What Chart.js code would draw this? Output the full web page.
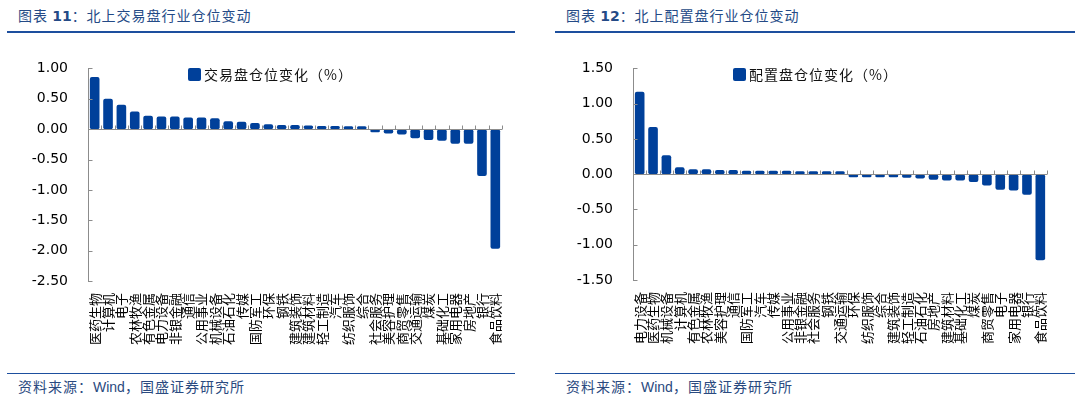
<!DOCTYPE html>
<html>
<head>
<meta charset="utf-8">
<script src="https://cdn.jsdelivr.net/npm/chart.js@4.4.1/dist/chart.umd.min.js"></script>
<style>
  html,body{margin:0;padding:0;background:#fff;}
  body{width:1080px;height:399px;position:relative;overflow:hidden;font-family:"Noto Sans CJK SC","DejaVu Sans",sans-serif;}
  .title{position:absolute;top:5px;font-size:14px;color:#244a86;letter-spacing:1px;white-space:nowrap;}
  .title b{font-family:"DejaVu Sans",sans-serif;font-weight:bold;letter-spacing:0;}
  .rule{position:absolute;height:2px;background:#1d4f9e;top:31px;}
  .rule2{position:absolute;height:1px;background:#1d4f9e;top:373px;}
  .src{position:absolute;top:376px;font-size:14px;color:#2a4a80;letter-spacing:1px;white-space:nowrap;}
  .src span{font-family:"Liberation Sans",Arial,sans-serif;letter-spacing:0;}
  .legend{position:absolute;top:64px;font-size:14px;color:#111;white-space:nowrap;letter-spacing:1px;}
  .legend i{display:inline-block;width:13px;height:13px;background:#00409a;border-radius:2px;vertical-align:-1px;margin-right:3px;}
  canvas{position:absolute;top:40px;}
</style>
</head>
<body>
<div class="title" style="left:18px">图表 <b>11</b>：北上交易盘行业仓位变动</div>
<div class="rule" style="left:7px;width:508px"></div>
<div class="title" style="left:566px">图表 <b>12</b>：北上配置盘行业仓位变动</div>
<div class="rule" style="left:555px;width:520px"></div>

<canvas id="c1" width="540" height="330" style="left:0"></canvas>
<canvas id="c2" width="540" height="330" style="left:540px"></canvas>

<div class="legend" style="left:188px"><i></i>交易盘仓位变化（%）</div>
<div class="legend" style="left:733px"><i></i>配置盘仓位变化（%）</div>

<div class="rule2" style="left:7px;width:508px"></div>
<div class="src" style="left:18px">资料来源：<span>Wind</span>，国盛证券研究所</div>
<div class="rule2" style="left:555px;width:520px"></div>
<div class="src" style="left:566px">资料来源：<span>Wind</span>，国盛证券研究所</div>

<script>
// ---- data ----
const tradeCategories = ['医药生物','计算机','电子','农林牧渔','有色金属','电力设备','非银金融','通信','公用事业','机械设备','石油石化','传媒','国防军工','环保','钢铁','建筑装饰','建筑材料','轻工制造','汽车','纺织服饰','综合','社会服务','美容护理','商贸零售','交通运输','煤炭','基础化工','家用电器','房地产','银行','食品饮料'];
const tradeValues = [0.86,0.50,0.40,0.29,0.22,0.21,0.21,0.19,0.19,0.18,0.13,0.12,0.10,0.08,0.07,0.07,0.06,0.05,0.05,0.04,0.03,-0.04,-0.07,-0.09,-0.15,-0.18,-0.19,-0.24,-0.24,-0.77,-1.97];
const tradeLabel = '交易盘仓位变化（%）';
const tradeTicks = {min:-2.5, max:1.0, step:0.5};

const allocCategories = ['电力设备','医药生物','机械设备','计算机','有色金属','农林牧渔','美容护理','通信','国防军工','汽车','传媒','公用事业','非银金融','社会服务','钢铁','交通运输','环保','纺织服饰','综合','建筑装饰','轻工制造','石油石化','房地产','建筑材料','基础化工','煤炭','商贸零售','电子','家用电器','银行','食品饮料'];
const allocValues = [1.17,0.67,0.27,0.10,0.07,0.07,0.06,0.06,0.05,0.05,0.05,0.05,0.04,0.03,0.02,0.02,-0.01,-0.01,-0.01,-0.03,-0.05,-0.06,-0.08,-0.09,-0.09,-0.11,-0.16,-0.22,-0.23,-0.29,-1.22];
const allocLabel = '配置盘仓位变化（%）';
const allocTicks = {min:-1.5, max:1.5, step:0.5};

const BAR_COLOR = '#00409a';
const AXIS_COLOR = '#8c8c8c';

const axisPlugin = {
  id:'zeroAxis',
  afterDatasetsDraw(chart){
    const {ctx, chartArea, scales:{x,y}} = chart;
    const y0 = Math.round(y.getPixelForValue(0)) + 0.5;
    ctx.save();
    ctx.strokeStyle = AXIS_COLOR;
    ctx.lineWidth = 1;
    ctx.beginPath();
    ctx.moveTo(chartArea.left, y0);
    ctx.lineTo(chartArea.right, y0);
    const n = chart.data.labels.length;
    for (let i = 0; i <= n; i++) {
      const px = Math.round(x.getPixelForValue(i - 0.5)) + 0.5;
      ctx.moveTo(px, y0 - 4);
      ctx.lineTo(px, y0);
    }
    const lx = Math.round(chartArea.left) + 0.5;
    y.ticks.forEach(t => {
      const py = Math.round(y.getPixelForValue(t.value)) + 0.5;
      ctx.moveTo(lx, py);
      ctx.lineTo(lx + 4, py);
    });
    ctx.stroke();
    ctx.restore();
  }
};

function makeChart(id, labels, values, label, tk, yAxisWidth, rightPad, xHeight){
  return new Chart(document.getElementById(id), {
    type:'bar',
    data:{labels, datasets:[{label, data:values, backgroundColor:BAR_COLOR,
      barPercentage:0.72, categoryPercentage:1.0, borderRadius:2, borderSkipped:false, minBarLength:3}]},
    options:{
      responsive:false, animation:false, devicePixelRatio:1,
      layout:{padding:{top:25, right:rightPad, bottom:0, left:0}},
      plugins:{legend:{display:false}, tooltip:{enabled:false}},
      scales:{
        x:{
          grid:{display:false, drawTicks:false},
          border:{display:false},
          ticks:{autoSkip:false, minRotation:90, maxRotation:90, padding:12,
            color:'#000', font:{family:'"Noto Sans CJK SC"', size:13}},
          afterFit(s){ s.height = xHeight; }
        },
        y:{
          min:tk.min, max:tk.max,
          grid:{display:false, drawTicks:false},
          border:{display:true, color:AXIS_COLOR, width:1},
          ticks:{stepSize:tk.step, padding:20, color:'#000',
            font:{family:'"DejaVu Sans"', size:14},
            callback:v => Number(v).toFixed(2)},
          afterFit(s){ s.width = yAxisWidth; }
        }
      }
    },
    plugins:[axisPlugin]
  });
}

makeChart('c1', tradeCategories, tradeValues, tradeLabel, tradeTicks, 88, 38, 89);
makeChart('c2', allocCategories, allocValues, allocLabel, allocTicks, 93, 33, 90);
</script>
</body>
</html>
